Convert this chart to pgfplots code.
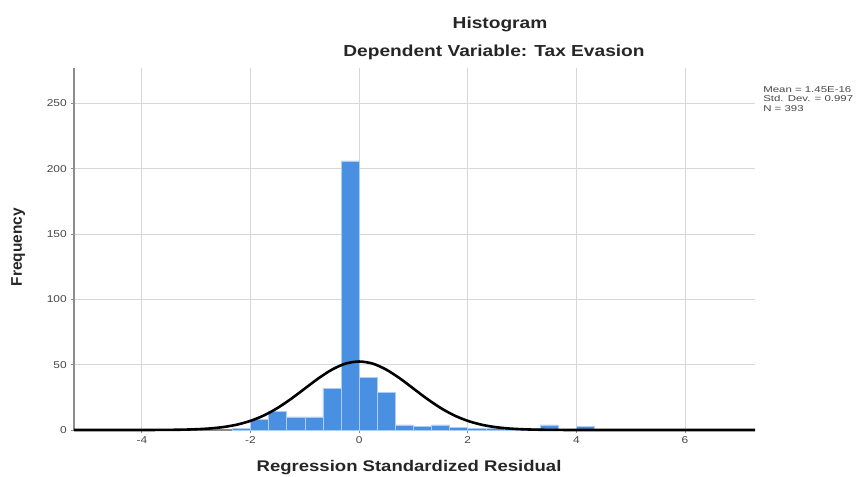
\documentclass[border=0pt]{standalone}
\usepackage{fontspec}
\setmainfont{Liberation Sans}
\usepackage{graphicx}
\usepackage{pgfplots}
\pgfplotsset{compat=1.18}

\definecolor{barblue}{RGB}{74,144,226}
\definecolor{gridgray}{RGB}{215,215,215}
\definecolor{axisgray}{RGB}{140,140,140}
\definecolor{labelgray}{RGB}{70,70,70}

\begin{document}
\begin{tikzpicture}
% fixed page: 863 x 477 with the axis box at (74,68)-(755,430) in pixels
\path[use as bounding box] (-74bp,-47bp) rectangle (789bp,430bp);

\begin{axis}[
  at={(0,0)}, anchor=south west,
  scale only axis,
  width=681bp, height=362bp,
  xmin=-5.25, xmax=7.29,
  ymin=0, ymax=277,
  xtick={-4,-2,0,2,4,6},
  ytick={0,50,100,150,200,250},
  grid=major,
  grid style={gridgray, line width=0.8bp},
  axis x line*=bottom,
  axis y line*=left,
  axis line style={axisgray, line width=1.1bp},
  tick align=outside,
  major tick length=3bp,
  tick style={axisgray, line width=0.8bp},
  /pgf/number format/assume math mode=true,
  ticklabel style={font=\fontsize{10}{12}\selectfont, text=labelgray, xscale=1.2},
  xlabel={Regression Standardized Residual},
  ylabel={Frequency},
  label style={font=\bfseries\fontsize{15.5}{18}\selectfont, text=black!85},
  xlabel style={at={(axis description cs:0.492,-0.105)}, anchor=center, xscale=1.2},
  ylabel style={at={(axis description cs:-0.082,0.505)}, anchor=center, rotate=0},
  clip=false,
]
\addplot[ybar interval, fill=barblue, draw=white!55!barblue, line width=0.5bp] coordinates {
  (-2.333,1) (-2,8) (-1.667,14) (-1.333,10) (-1,10) (-0.667,32)
  (-0.333,206) (0,40) (0.333,29) (0.667,4) (1,3) (1.333,4)
  (1.667,2) (2,1) (2.333,1) (2.667,1) (3,1) (3.333,4)
  (3.667,0) (4,3) (4.333,0)
};
\addplot[black, line width=2.6bp, smooth] coordinates {
  (-5.25,0) (-4.25,0) (-4,0.01) (-3.75,0.04) (-3.5,0.11) (-3.25,0.26)
  (-3,0.57) (-2.75,1.17) (-2.5,2.26) (-2.25,4.1) (-2,7.0) (-1.75,11.2)
  (-1.5,16.9) (-1.25,23.9) (-1,31.7) (-0.75,39.5) (-0.5,46.2) (-0.25,50.8)
  (0,52.4)
  (0.25,50.8) (0.5,46.2) (0.75,39.5) (1,31.7) (1.25,23.9) (1.5,16.9)
  (1.75,11.2) (2,7.0) (2.25,4.1) (2.5,2.26) (2.75,1.17) (3,0.57)
  (3.25,0.26) (3.5,0.11) (3.75,0.04) (4,0.01) (4.25,0) (7.29,0)
};
\end{axis}

\node[font=\bfseries\fontsize{16}{19}\selectfont, text=black!85, xscale=1.2] at (426bp,406bp) {Histogram};
\node[font=\bfseries\fontsize{16}{19}\selectfont, text=black!85, xscale=1.2] at (420bp,378bp) {Dependent Variable: Tax Evasion};
\node[anchor=north west, align=left, inner sep=0pt, font=\fontsize{8.5}{8.3}\selectfont, text=labelgray, xscale=1.35] at (689bp,344bp)
  {Mean = 1.45E-16\\[1.2bp]Std. Dev. = 0.997\\[1.2bp]N = 393};
\end{tikzpicture}
\end{document}
